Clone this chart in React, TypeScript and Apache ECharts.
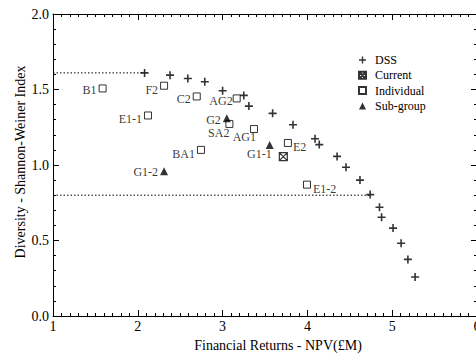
import React, { useEffect, useRef } from "react";
import * as echarts from "echarts";

const dssX = [2.08, 2.38, 2.59, 2.79, 3.0, 3.25, 3.31, 3.59, 3.83, 4.09, 4.14, 4.35, 4.455, 4.62, 4.74, 4.85, 4.875, 5.01, 5.105, 5.185, 5.27];
const dssY = [1.61, 1.595, 1.573, 1.551, 1.492, 1.461, 1.39, 1.342, 1.267, 1.174, 1.135, 1.057, 0.985, 0.9, 0.804, 0.72, 0.654, 0.582, 0.482, 0.375, 0.258];

const currentX = [3.716];
const currentY = [1.055];

const indivNames = ["B1", "F2", "C2", "AG2", "E1-1", "SA2", "BA1", "AG1", "E2", "E1-2"];
const indivX = [1.585, 2.31, 2.695, 3.166, 2.12, 3.08, 2.745, 3.37, 3.77, 3.995];
const indivY = [1.507, 1.525, 1.454, 1.441, 1.328, 1.272, 1.1, 1.238, 1.146, 0.87];

const subNames = ["G2", "G1-1", "G1-2"];
const subX = [3.05, 3.555, 2.31];
const subY = [1.309, 1.133, 0.958];

const refLine1X = [1, 2.08];
const refLine1Y = [1.61, 1.61];
const refLine2X = [1, 4.74];
const refLine2Y = [0.8, 0.8];

const xTicks = [1, 2, 3, 4, 5, 6];
const yTicks = [0, 0.5, 1, 1.5, 2];

const FONT = "'Liberation Serif', 'Times New Roman', serif";

const labelPlacement: Record<string, { position: string; offset: number[] }> = {
  B1: { position: "left", offset: [0, 2] },
  F2: { position: "left", offset: [0, 4] },
  C2: { position: "left", offset: [0, 3] },
  AG2: { position: "left", offset: [2, 3] },
  "E1-1": { position: "left", offset: [0, 4] },
  SA2: { position: "left", offset: [6, 9] },
  BA1: { position: "left", offset: [0, 4] },
  AG1: { position: "left", offset: [8, 8] },
  E2: { position: "right", offset: [-1, 4] },
  "E1-2": { position: "right", offset: [0, 4] },
  G2: { position: "left", offset: [0, 2] },
  "G1-1": { position: "left", offset: [8, 9] },
  "G1-2": { position: "left", offset: [0, 1] },
};

const PLUS = "path://M3.2,0H4.8V3.2H8V4.8H4.8V8H3.2V4.8H0V3.2H3.2Z";
const XBOX = "path://M0,0H8V8H0ZM0,0L8,8M8,0L0,8";

function labeled(names: string[], xs: number[], ys: number[]) {
  return names.map((n, i) => {
    const p = labelPlacement[n];
    return {
      name: n,
      value: [xs[i], ys[i]],
      label: {
        show: true,
        formatter: n,
        position: p.position,
        offset: p.offset,
        distance: 2,
        color: "#000",
        fontSize: 12,
        fontFamily: FONT,
      },
    };
  });
}

function xAxisBase(pos: "bottom" | "top") {
  return {
    type: "value",
    position: pos,
    min: xTicks[0],
    max: xTicks[xTicks.length - 1],
    interval: 1,
    axisLine: { show: true, onZero: false, lineStyle: { color: "#000", width: 1 } },
    axisTick: { show: true, inside: true, length: 6, lineStyle: { color: "#000" } },
    minorTick: { show: true, splitNumber: 10, length: 3, lineStyle: { color: "#000" } },
    splitLine: { show: false },
    axisLabel: {
      show: pos === "bottom",
      margin: 3,
      color: "#000",
      fontSize: 14,
      fontFamily: FONT,
    },
  };
}

function yAxisBase(pos: "left" | "right") {
  return {
    type: "value",
    position: pos,
    min: yTicks[0],
    max: yTicks[yTicks.length - 1],
    interval: 0.5,
    axisLine: { show: true, onZero: false, lineStyle: { color: "#000", width: 1 } },
    axisTick: { show: true, inside: true, length: 6, lineStyle: { color: "#000" } },
    minorTick: { show: true, splitNumber: 5, length: 3, lineStyle: { color: "#000" } },
    splitLine: { show: false },
    axisLabel: {
      show: pos === "left",
      margin: 4,
      color: "#000",
      fontSize: 14,
      fontFamily: FONT,
      formatter: (v: number) => v.toFixed(1),
    },
  };
}

export default function App() {
  const ref = useRef<HTMLDivElement>(null);
  useEffect(() => {
    if (!ref.current) return;
    const chart = echarts.init(ref.current, null, { renderer: "svg" });
    chart.setOption({
      animation: false,
      backgroundColor: "#fff",
      grid: {
        left: 53,
        top: 14,
        width: 424,
        height: 302,
        containLabel: false,
        outerBoundsMode: "none",
      },
      xAxis: [xAxisBase("bottom"), xAxisBase("top")],
      yAxis: [yAxisBase("left"), yAxisBase("right")],
      legend: {
        data: [
          { name: "DSS", icon: PLUS },
          { name: "Current", icon: XBOX },
          { name: "Individual", icon: "rect" },
          { name: "Sub-group", icon: "triangle" },
        ],
        orient: "vertical",
        left: 358,
        top: 54,
        padding: 0,
        itemWidth: 7,
        itemHeight: 7,
        itemGap: 3.3,
        textStyle: {
          fontSize: 12,
          fontFamily: FONT,
          color: "#000",
          lineHeight: 12,
          padding: [0, 0, 0, 4],
        },
      },
      graphic: [
        {
          type: "text",
          x: 278,
          y: 345,
          style: {
            text: "Financial Returns - NPV(£M)",
            fontSize: 14,
            fontFamily: FONT,
            fill: "#000",
            align: "center",
            verticalAlign: "middle",
          },
        },
        {
          type: "text",
          x: 20,
          y: 162,
          rotation: Math.PI / 2,
          style: {
            text: "Diversity - Shannon-Weiner Index",
            fontSize: 14,
            fontFamily: FONT,
            fill: "#000",
            align: "center",
            verticalAlign: "middle",
          },
        },
      ],
      series: [
        {
          type: "line",
          data: refLine1X.map((x, i) => [x, refLine1Y[i]]),
          symbol: "none",
          lineStyle: { color: "#000", width: 1, type: [1.5, 2] },
          silent: true,
        },
        {
          type: "line",
          data: refLine2X.map((x, i) => [x, refLine2Y[i]]),
          symbol: "none",
          lineStyle: { color: "#000", width: 1, type: [1.5, 2] },
          silent: true,
        },
        {
          name: "DSS",
          type: "scatter",
          symbol: PLUS,
          symbolSize: 8,
          itemStyle: { color: "#000" },
          data: dssX.map((x, i) => [x, dssY[i]]),
        },
        {
          name: "Current",
          type: "scatter",
          symbol: XBOX,
          symbolSize: 8,
          itemStyle: { color: "#fff", borderColor: "#000", borderWidth: 1.2 },
          data: currentX.map((x, i) => [x, currentY[i]]),
        },
        {
          name: "Individual",
          type: "scatter",
          symbol: "rect",
          symbolSize: 7,
          itemStyle: { color: "#fff", borderColor: "#000", borderWidth: 1 },
          data: labeled(indivNames, indivX, indivY),
        },
        {
          name: "Sub-group",
          type: "scatter",
          symbol: "triangle",
          symbolSize: 8,
          itemStyle: { color: "#000" },
          data: labeled(subNames, subX, subY),
        },
      ],
    });
    return () => chart.dispose();
  }, []);
  return (
    <div
      ref={ref}
      style={{ position: "fixed", left: 0, top: 0, width: 476, height: 354, background: "#fff" }}
    />
  );
}
